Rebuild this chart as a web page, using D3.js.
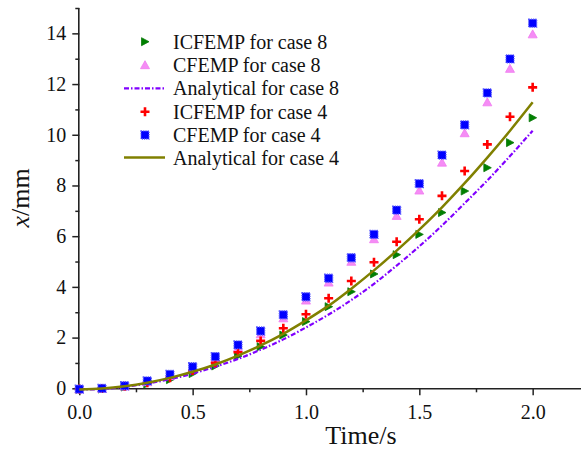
<!DOCTYPE html>
<html>
<head>
<meta charset="utf-8">
<script src="https://cdn.jsdelivr.net/npm/d3@7"></script>
<style>
  body { margin: 0; background: #fff; }
  svg { display: block; }
</style>
</head>
<body>
<div id="chart"></div>
<script>
// time samples (s)
var times = [0, 0.1, 0.2, 0.3, 0.4, 0.5, 0.6, 0.7, 0.8, 0.9, 1.0,
             1.1, 1.2, 1.3, 1.4, 1.5, 1.6, 1.7, 1.8, 1.9, 2.0];

// displacement x (mm)
var icfempCase8 = [-0.05, -0.03, 0.05, 0.17, 0.34, 0.58, 0.88, 1.27, 1.64, 2.10, 2.63,
                   3.22, 3.81, 4.51, 5.27, 6.07, 6.93, 7.78, 8.70, 9.69, 10.67];
var cfempCase8 = [-0.05, -0.02, 0.07, 0.24, 0.48, 0.77, 1.15, 1.60, 2.13, 2.76, 3.46,
                  4.17, 4.99, 5.88, 6.80, 7.80, 8.90, 10.06, 11.28, 12.60, 13.96];
var analyticCase8 = [-0.05, -0.03, 0.06, 0.19, 0.36, 0.58, 0.85, 1.16, 1.52, 1.93, 2.40,
                     2.91, 3.48, 4.12, 4.84, 5.60, 6.42, 7.30, 8.20, 9.16, 10.16];
var icfempCase4 = [-0.03, -0.01, 0.08, 0.22, 0.42, 0.70, 1.01, 1.42, 1.87, 2.37, 2.92,
                   3.55, 4.23, 4.97, 5.78, 6.67, 7.59, 8.57, 9.62, 10.71, 11.87];
var cfempCase4 = [-0.03, 0.00, 0.10, 0.29, 0.55, 0.85, 1.25, 1.71, 2.26, 2.90, 3.61,
                  4.34, 5.15, 6.07, 7.03, 8.07, 9.20, 10.39, 11.65, 12.99, 14.40];
var analyticCase4 = [-0.05, -0.01, 0.08, 0.22, 0.41, 0.65, 0.94, 1.29, 1.69, 2.15, 2.68,
                     3.26, 3.93, 4.65, 5.43, 6.26, 7.14, 8.09, 9.10, 10.16, 11.28];

var xMajor = [0, 0.5, 1.0, 1.5, 2.0];
var xMinor = [0.25, 0.75, 1.25, 1.75];
var yMajor = [0, 2, 4, 6, 8, 10, 12, 14];
var yMinor = [1, 3, 5, 7, 9, 11, 13, 15];

var legendLabels = ["ICFEMP for case 8", "CFEMP for case 8", "Analytical for case 8",
                    "ICFEMP for case 4", "CFEMP for case 4", "Analytical for case 4"];

var serif = "Liberation Serif";

function init() {
    var w = 581, h = 450;
    var svg = d3.select("#chart").append("svg")
        .attr("width", w)
        .attr("height", h)
        .attr("font-family", serif);

    var x = d3.scaleLinear().domain([0, 2.2]).range([79.3, 578]);
    var y = d3.scaleLinear().domain([0, 15]).range([388.3, 8]);

    var axisColor = "#222";

    // axes
    var xAxis = svg.append("g").attr("transform", "translate(0," + y(0) + ")");
    xAxis.call(d3.axisBottom(x).tickValues(xMajor).tickSize(7).tickPadding(10)
        .tickFormat(d3.format(".1f")));
    xAxis.append("g").call(d3.axisBottom(x).tickValues(xMinor).tickSize(4).tickFormat(""))
        .select(".domain").remove();

    var yAxis = svg.append("g").attr("transform", "translate(" + x(0) + ",0)");
    yAxis.call(d3.axisLeft(y).tickValues(yMajor).tickSize(7).tickPadding(6));
    yAxis.append("g").call(d3.axisLeft(y).tickValues(yMinor).tickSize(4).tickFormat(""))
        .select(".domain").remove();

    xAxis.attr("font-family", serif).attr("font-size", 20);
    yAxis.attr("font-family", serif).attr("font-size", 20);

    svg.selectAll(".domain").attr("stroke", axisColor).attr("stroke-width", 1.6);
    // plain axis lines without d3's end caps
    xAxis.select(".domain").attr("d", "M" + x(0) + ",0.5H" + (x(2.2) + 3));
    yAxis.select(".domain").attr("d", "M-0.5," + y(0) + "V" + y(15));
    svg.selectAll(".tick line").attr("stroke", axisColor).attr("stroke-width", 1.5);
    svg.selectAll(".tick text").attr("fill", "#111");

    // axis titles
    svg.append("text")
        .attr("x", 361).attr("y", 444)
        .attr("text-anchor", "middle")
        .attr("font-size", 26)
        .attr("fill", "#111")
        .text("Time/s");

    var yt = svg.append("text")
        .attr("transform", "translate(29,198) rotate(-90)")
        .attr("text-anchor", "middle")
        .attr("font-size", 26)
        .attr("fill", "#111");
    yt.append("tspan").attr("font-style", "italic").text("x");
    yt.append("tspan").text("/mm");

    var pts = function (vals) {
        return times.map(function (t, i) { return [t, vals[i]]; });
    };
    var line = d3.line().x(function (d) { return x(d[0]); })
        .y(function (d) { return y(d[1]); })
        .curve(d3.curveMonotoneX);

    // marker painters
    function triRight(g, cx, cy) {
        g.append("path").attr("d", "M" + (cx - 3.5) + "," + (cy - 4) + "L" + (cx + 4) + "," + cy +
            "L" + (cx - 3.5) + "," + (cy + 4) + "Z")
            .attr("fill", "#008000").attr("stroke", "#0a7a0a").attr("stroke-width", 0.8);
    }
    function triUp(g, cx, cy) {
        g.append("path").attr("d", "M" + cx + "," + (cy - 4.5) + "L" + (cx + 4.5) + "," + (cy + 3.5) +
            "L" + (cx - 4.5) + "," + (cy + 3.5) + "Z")
            .attr("fill", "#f58cf5").attr("stroke", "#f07af0").attr("stroke-width", 0.8);
    }
    function plus(g, cx, cy) {
        g.append("path").attr("d", "M" + (cx - 4.5) + "," + cy + "H" + (cx + 4.5) +
            "M" + cx + "," + (cy - 4.5) + "V" + (cy + 4.5))
            .attr("stroke", "#ff0000").attr("stroke-width", 2.6).attr("fill", "none");
    }
    function square(g, cx, cy) {
        g.append("rect").attr("x", cx - 4).attr("y", cy - 4).attr("width", 8).attr("height", 8)
            .attr("fill", "#0000ff").attr("stroke", "#5a5aff").attr("stroke-width", 1.3)
            .attr("stroke-dasharray", "1.2,1");
    }

    function scatter(vals, painter) {
        var g = svg.append("g");
        pts(vals).forEach(function (d) { painter(g, x(d[0]), y(d[1])); });
    }

    scatter(icfempCase8, triRight);
    scatter(cfempCase8, triUp);
    svg.append("path").datum(pts(analyticCase8)).attr("d", line)
        .attr("fill", "none").attr("stroke", "#8000ff").attr("stroke-width", 2.2)
        .attr("stroke-dasharray", "5,2,1.5,2");
    scatter(icfempCase4, plus);
    scatter(cfempCase4, square);
    svg.append("path").datum(pts(analyticCase4)).attr("d", line)
        .attr("fill", "none").attr("stroke", "#808000").attr("stroke-width", 2.5);

    // legend
    var leg = svg.append("g");
    var rowY = [41.7, 65.2, 88.3, 111.7, 135, 157.5];
    var painters = [triRight, triUp, null, plus, square, null];
    legendLabels.forEach(function (lab, i) {
        var cy = rowY[i];
        if (painters[i]) {
            painters[i](leg, 145, cy);
        } else {
            leg.append("line").attr("x1", 124).attr("x2", 165).attr("y1", cy).attr("y2", cy)
                .attr("stroke", i === 2 ? "#8000ff" : "#808000")
                .attr("stroke-width", i === 2 ? 2.2 : 2.5)
                .attr("stroke-dasharray", i === 2 ? "5,2,1.5,2" : null);
        }
        leg.append("text").attr("x", 173).attr("y", cy + 7)
            .attr("font-size", 20).attr("fill", "#111").text(lab);
    });
}
window.onload = init;
</script>
</body>
</html>
